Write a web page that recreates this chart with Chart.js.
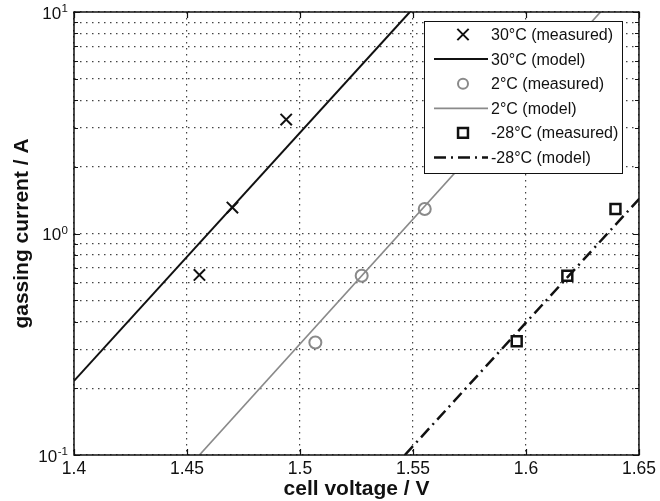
<!DOCTYPE html>
<html>
<head>
<meta charset="utf-8">
<script src="https://cdn.jsdelivr.net/npm/chart.js@4.4.1/dist/chart.umd.min.js"></script>
<style>
  html, body { margin: 0; padding: 0; background: #ffffff; }
  #wrap { width: 660px; height: 501px; }
</style>
</head>
<body>
<div id="wrap"><canvas id="c" width="660" height="501"></canvas></div>
<script>
// Series names, in legend order
const seriesLabels = ['30°C (measured)', '30°C (model)', '2°C (measured)', '2°C (model)', '-28°C (measured)', '-28°C (model)'];

// 30 °C
const voltage30Measured = [1.4555, 1.4701, 1.4939];
const current30Measured = [0.65, 1.31, 3.27];
const voltage30Model = [1.4, 1.5486];
const current30Model = [0.216, 10];

// 2 °C
const voltage2Measured = [1.5068, 1.5273, 1.5552];
const current2Measured = [0.322, 0.645, 1.29];
const voltage2Model = [1.4555, 1.633];
const current2Model = [0.1, 10];

// -28 °C
const voltageM28Measured = [1.5959, 1.6183, 1.6396];
const currentM28Measured = [0.326, 0.645, 1.29];
const voltageM28Model = [1.5464, 1.65];
const currentM28Model = [0.1, 1.43];

// Axis ticks
const xTickValues = [1.4, 1.45, 1.5, 1.55, 1.6, 1.65];
const xTickLabels = ['1.4', '1.45', '1.5', '1.55', '1.6', '1.65'];
const yGridValues = [0.1, 0.2, 0.3, 0.4, 0.5, 0.6, 0.7, 0.8, 0.9, 1, 2, 3, 4, 5, 6, 7, 8, 9, 10];
const yDecadeValues = [0.1, 1, 10];
const yDecadeExponents = ['-1', '0', '1'];

const pairUp = (xs, ys) => xs.map((x, i) => ({ x: x, y: ys[i] }));

const GRAY = '#8a8a8a';
const INK = '#111111';
const FONT = '"Liberation Sans", Arial, Helvetica, sans-serif';

const datasets = [
  { label: seriesLabels[0], data: pairUp(voltage30Measured, current30Measured), showLine: false,
    pointStyle: 'crossRot', pointRadius: 8, pointBorderWidth: 2, borderColor: INK, pointBorderColor: INK,
    backgroundColor: 'rgba(0,0,0,0)', pointBackgroundColor: 'rgba(0,0,0,0)' },
  { label: seriesLabels[1], data: pairUp(voltage30Model, current30Model), showLine: true,
    pointRadius: 0, borderColor: INK, borderWidth: 2, borderDash: [] },
  { label: seriesLabels[2], data: pairUp(voltage2Measured, current2Measured), showLine: false,
    pointStyle: 'circle', pointRadius: 6, pointBorderWidth: 2, borderColor: GRAY, pointBorderColor: GRAY,
    backgroundColor: 'rgba(0,0,0,0)', pointBackgroundColor: 'rgba(0,0,0,0)' },
  { label: seriesLabels[3], data: pairUp(voltage2Model, current2Model), showLine: true,
    pointRadius: 0, borderColor: GRAY, borderWidth: 1.7, borderDash: [] },
  { label: seriesLabels[4], data: pairUp(voltageM28Measured, currentM28Measured), showLine: false,
    pointStyle: 'rect', pointRadius: 7, pointBorderWidth: 2.5, borderColor: INK, pointBorderColor: INK,
    backgroundColor: 'rgba(0,0,0,0)', pointBackgroundColor: 'rgba(0,0,0,0)' },
  { label: seriesLabels[5], data: pairUp(voltageM28Model, currentM28Model), showLine: true,
    pointRadius: 0, borderColor: INK, borderWidth: 2.5, borderDash: [12, 5, 2, 5] }
];

// Frame, inward tick marks, decade labels and the boxed legend
const framePlugin = {
  id: 'frame',
  afterDatasetsDraw(chart) {
    const ctx = chart.ctx;
    const a = chart.chartArea;
    const xs = chart.scales.x, ys = chart.scales.y;
    ctx.save();

    // inward tick marks on all four sides
    ctx.strokeStyle = INK;
    ctx.lineWidth = 1.2;
    ctx.beginPath();
    xTickValues.forEach(v => {
      const px = Math.round(xs.getPixelForValue(v)) + 0.5;
      ctx.moveTo(px, a.bottom); ctx.lineTo(px, a.bottom - 6);
      ctx.moveTo(px, a.top); ctx.lineTo(px, a.top + 6);
    });
    yGridValues.forEach(v => {
      const py = Math.round(ys.getPixelForValue(v)) + 0.5;
      const len = yDecadeValues.includes(v) ? 6 : 4;
      ctx.moveTo(a.left, py); ctx.lineTo(a.left + len, py);
      ctx.moveTo(a.right, py); ctx.lineTo(a.right - len, py);
    });
    ctx.stroke();

    // legend box
    const lx = 424, ly = 21, lw = 198, lh = 152;
    ctx.fillStyle = '#ffffff';
    ctx.fillRect(lx, ly, lw, lh);
    ctx.strokeStyle = INK;
    ctx.lineWidth = 1;
    ctx.strokeRect(lx + 0.5, ly + 0.5, lw, lh);

    chart.data.datasets.forEach((ds, i) => {
      const ry = ly + 13.5 + i * 24.6;
      if (ds.showLine) {
        ctx.save();
        ctx.strokeStyle = ds.borderColor;
        ctx.lineWidth = ds.borderWidth;
        ctx.setLineDash(ds.borderDash || []);
        ctx.beginPath();
        ctx.moveTo(lx + 10, ry); ctx.lineTo(lx + 64, ry);
        ctx.stroke();
        ctx.restore();
      } else {
        const cx = lx + 39;
        ctx.save();
        ctx.strokeStyle = ds.pointBorderColor;
        ctx.lineWidth = ds.pointBorderWidth;
        ctx.beginPath();
        if (ds.pointStyle === 'crossRot') {
          const r = ds.pointRadius * Math.SQRT1_2;
          ctx.moveTo(cx - r, ry - r); ctx.lineTo(cx + r, ry + r);
          ctx.moveTo(cx + r, ry - r); ctx.lineTo(cx - r, ry + r);
        } else if (ds.pointStyle === 'circle') {
          ctx.arc(cx, ry, ds.pointRadius - 1, 0, Math.PI * 2);
        } else {
          const s = ds.pointRadius * Math.SQRT1_2;
          ctx.rect(cx - s, ry - s, 2 * s, 2 * s);
        }
        ctx.stroke();
        ctx.restore();
      }
      ctx.fillStyle = INK;
      ctx.font = '16px ' + FONT;
      ctx.textAlign = 'left';
      ctx.textBaseline = 'middle';
      ctx.fillText(ds.label, lx + 67, ry + 1);
    });

    // plot frame
    ctx.strokeStyle = INK;
    ctx.lineWidth = 1.5;
    ctx.strokeRect(a.left, a.top, a.right - a.left, a.bottom - a.top);

    // decade labels on the log axis: 10 with a raised exponent
    ctx.fillStyle = INK;
    yDecadeValues.forEach((v, i) => {
      const py = ys.getPixelForValue(v);
      ctx.font = '11.5px ' + FONT;
      const ew = ctx.measureText(yDecadeExponents[i]).width;
      ctx.textAlign = 'left';
      ctx.textBaseline = 'middle';
      ctx.fillText(yDecadeExponents[i], 68 - ew, py - 3);
      ctx.font = '17px ' + FONT;
      ctx.textAlign = 'right';
      ctx.fillText('10', 68 - ew - 0.5, py + 2);
    });
    ctx.restore();
  }
};

// dotted grid lines (Chart.js v4 takes the grid dash from border.dash)
const dottedGrid = { display: false, dash: [1.5, 4.5] };

new Chart(document.getElementById('c'), {
  type: 'scatter',
  data: { datasets: datasets },
  plugins: [framePlugin],
  options: {
    responsive: false,
    animation: false,
    devicePixelRatio: 1,
    layout: { padding: { left: 0, right: 18, top: 12, bottom: 0 } },
    plugins: { legend: { display: false }, tooltip: { enabled: false } },
    scales: {
      x: {
        type: 'linear',
        min: 1.4,
        max: 1.65,
        afterBuildTicks: s => { s.ticks = xTickValues.map(v => ({ value: v })); },
        afterFit: s => { s.height = 46; },
        border: dottedGrid,
        grid: { color: '#444', lineWidth: 1.2, drawTicks: false },
        ticks: {
          padding: 4,
          maxRotation: 0,
          autoSkip: false,
          color: INK,
          font: { family: FONT, size: 17.5 },
          callback: (v, i) => xTickLabels[i]
        },
        title: {
          display: true,
          text: 'cell voltage / V',
          color: INK,
          font: { family: FONT, size: 21, weight: 'bold', lineHeight: 1 },
          padding: { top: 0, bottom: 1 }
        }
      },
      y: {
        type: 'logarithmic',
        min: 0.1,
        max: 10,
        afterBuildTicks: s => { s.ticks = yGridValues.map(v => ({ value: v })); },
        afterFit: s => { s.width = 74; },
        border: dottedGrid,
        grid: { color: '#444', lineWidth: 1.2, drawTicks: false },
        ticks: { display: false },
        title: {
          display: true,
          text: 'gassing current / A',
          color: INK,
          font: { family: FONT, size: 21, weight: 'bold', lineHeight: 1 },
          padding: { top: 12, bottom: 0 }
        }
      }
    }
  }
});
</script>
</body>
</html>
